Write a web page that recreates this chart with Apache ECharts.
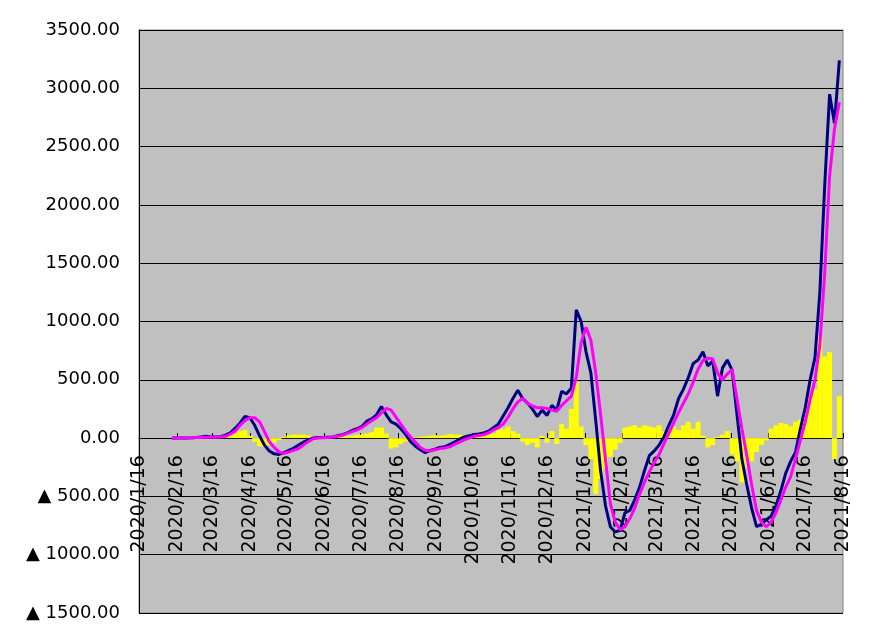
<!DOCTYPE html>
<html lang="ja">
<head>
<meta charset="UTF-8">
<title>chart</title>
<script src="https://cdn.jsdelivr.net/npm/echarts/dist/echarts.min.js"></script>
<style>
  body { margin: 0; background: #fff; }
</style>
</head>
<body>
<div id="main" style="width: 871px;height:635px;"></div>
<script type="text/javascript">
// x axis runs day by day; labels on the 16th of each month
var firstDay = '2020/1/16';
var lastDay = '2021/8/16';

// readings taken every 4 days from this date
var sampleStart = '2020/2/12';
var sampleStep = 4;

// dark blue line
var blueLine = [
    0, 0, 0, 0, 2, 5, 10, 15, 10, 10,
    12, 25, 45, 85, 130, 185, 175, 110, 20, -60,
    -110, -135, -140, -125, -105, -85, -60, -35, -15, 0,
    5, 5, 8, 10, 20, 30, 45, 65, 80, 100,
    145, 165, 200, 270, 200, 140, 120, 80, 30, -30,
    -70, -100, -125, -105, -95, -80, -75, -55, -35, -10,
    10, 20, 30, 35, 45, 60, 90, 120, 190, 260,
    340, 410, 340, 300, 250, 185, 240, 195, 280, 240,
    400, 380, 430, 1100, 1000, 740, 560, 150, -280, -580,
    -760, -805, -790, -640, -620, -530, -420, -280, -150, -110,
    -60, 10, 110, 200, 340, 420, 520, 640, 670, 740,
    620, 660, 360, 600, 670, 580, 200, -180, -400, -600,
    -760, -740, -700, -670, -580, -450, -300, -200, -120, 80,
    260, 500, 690, 1250, 2170, 2950, 2700, 3240
];

// magenta line
var pinkLine = [
    0, 0, 0, 2, 3, 5, 5, 8, 8, 8,
    10, 15, 35, 60, 110, 150, 175, 175, 140, 55,
    -30, -80, -120, -130, -120, -105, -90, -60, -30, -5,
    0, 3, 5, 10, 15, 25, 40, 55, 70, 90,
    120, 150, 175, 215, 255, 240, 180, 120, 60, 10,
    -35, -80, -105, -110, -100, -90, -85, -75, -55, -35,
    -15, 0, 15, 22, 28, 45, 70, 90, 120, 180,
    250, 310, 340, 300, 275, 260, 260, 255, 240, 230,
    280, 320, 360, 520, 820, 950, 840, 560, 200, -180,
    -560, -720, -785, -760, -690, -600, -480, -380, -290, -210,
    -140, -50, 40, 130, 220, 300, 380, 480, 590, 665,
    686, 680, 560, 500, 550, 590, 330, 80, -150, -400,
    -620, -720, -760, -720, -640, -530, -420, -330, -180, -20,
    140, 330, 500, 800, 1420, 2250, 2650, 2880
];

// yellow bars
var yellowBars = [
    0, 0, 0, 0, 0, 0, 0, 0, 0, 0,
    0, 5, 20, 40, 60, 70, 20, -30, -70, -75,
    -60, -40, -15, 10, 25, 30, 30, 30, 25, 10,
    5, 5, 5, 5, 10, 10, 15, 20, 30, 30,
    40, 50, 90, 90, 40, -90, -80, -50, -30, -15,
    5, 10, 15, 20, 25, 20, 25, 35, 30, 30,
    25, 30, 25, 20, 25, 30, 40, 70, 80, 100,
    60, 40, -30, -60, -40, -80, 20, -40, 60, -50,
    120, 80, 250, 480, 100, -60, -180, -480, -350, -260,
    -160, -100, -40, 90, 100, 110, 90, 110, 100, 90,
    110, 60, 90, 100, 70, 110, 140, 80, 140, 20,
    -80, -60, 10, 30, 60, -140, -200, -380, -250, -200,
    -120, -60, -20, 80, 110, 130, 120, 100, 140, 160,
    240, 350, 420, 870, 700, 740, -180, 360
];

var yTicks = { min: -1500, max: 3500, step: 500 };

function fmtDate(t) {
    return t.getFullYear() + '/' + (t.getMonth() + 1) + '/' + t.getDate();
}
function parseDate(s) {
    var p = s.split('/');
    return new Date(+p[0], +p[1] - 1, +p[2]);
}

var dates = [];
var end = parseDate(lastDay);
for (var t = parseDate(firstDay); t <= end; t.setDate(t.getDate() + 1)) {
    dates.push(fmtDate(t));
}
var startIdx = dates.indexOf(sampleStart);

function toPairs(arr) {
    return arr.map(function (v, i) {
        return [startIdx + i * sampleStep, v];
    });
}

function isLabelDay(index, value) {
    return /\/16$/.test(value);
}

// plot box, and how far the zero line sits above its bottom edge
var plotTop = 30, plotBottom = 22, plotH = 635 - plotTop - plotBottom;
var zeroUp = plotH * (0 - yTicks.min) / (yTicks.max - yTicks.min);

var myChart = echarts.init(document.getElementById('main'));
myChart.setOption({
    animation: false,
    grid: {
        left: 139,
        right: 28,
        top: plotTop,
        bottom: plotBottom,
        containLabel: false,
        outerBoundsMode: 'none',
        show: true,
        backgroundColor: '#c0c0c0',
        borderColor: '#808080',
        borderWidth: 1
    },
    xAxis: {
        type: 'category',
        data: dates,
        boundaryGap: false,
        position: 'bottom',
        offset: -zeroUp,
        axisLine: { onZero: false, lineStyle: { color: '#000', width: 1 } },
        axisTick: { inside: true, length: 5, interval: isLabelDay, lineStyle: { color: '#000' } },
        axisLabel: {
            interval: isLabelDay,
            rotate: 90,
            margin: 17,
            color: '#000',
            fontSize: 19,
            fontFamily: 'DejaVu Sans',
            showMinLabel: true,
            showMaxLabel: true
        },
        splitLine: { show: false }
    },
    yAxis: {
        type: 'value',
        min: yTicks.min,
        max: yTicks.max,
        interval: yTicks.step,
        axisLine: { show: true, lineStyle: { color: '#000', width: 1 } },
        axisTick: { show: false },
        splitLine: { show: true, lineStyle: { color: '#000', width: 1 } },
        axisLabel: {
            margin: 19,
            color: '#000',
            fontSize: 18,
            fontFamily: 'DejaVu Sans',
            formatter: function (v) {
                return v < 0 ? '▲ ' + Math.abs(v).toFixed(2) : v.toFixed(2);
            }
        }
    },
    series: [{
        type: 'bar',
        zlevel: 1,
        data: toPairs(yellowBars),
        barWidth: 5,
        itemStyle: { color: '#ffff00' }
    }, {
        type: 'line',
        zlevel: 1,
        data: toPairs(blueLine),
        showSymbol: false,
        lineStyle: { color: '#000080', width: 3 }
    }, {
        type: 'line',
        zlevel: 1,
        data: toPairs(pinkLine),
        showSymbol: false,
        lineStyle: { color: '#ff00ff', width: 3 }
    }]
});
</script>
</body>
</html>
